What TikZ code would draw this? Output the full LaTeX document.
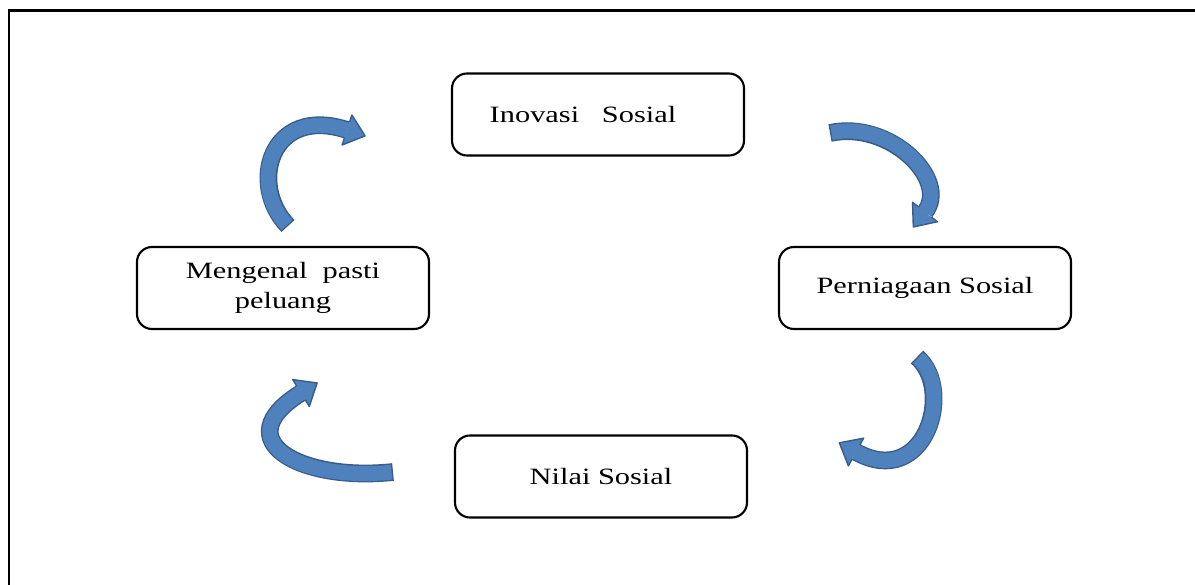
\documentclass[tikz,border=0pt]{standalone}
\usepackage{fontspec}
\setmainfont{Liberation Serif}[FakeStretch=1.3]
\usepackage{tikz}
\usetikzlibrary{calc}

\definecolor{arrowblue}{RGB}{79,129,189}
\definecolor{arrowdark}{RGB}{56,93,138}

\tikzset{
  stage/.style={draw, line width=1.2pt, rounded corners=0.3cm, minimum width=5.84cm, minimum height=1.64cm, inner sep=2pt, font=\fontsize{13.3}{17}\selectfont},
  arrowedge/.style={draw=arrowdark, line width=10.1pt},
  arrowbody/.style={draw=arrowblue, line width=8.5pt, shorten <=0.8pt},
  arrowline/.style={draw=arrowdark, line width=0.8pt, line join=round}
}

% curved block arrow: tail, control 1, control 2, head base
\newcommand{\cyclearrow}[4]{%
  \draw[arrowedge] (#1) .. controls (#2) and (#3) .. (#4);
  \fill[arrowblue] ($(#4)!9pt!90:(#3)$) -- ($(#4)!-0.38cm!(#3)$) -- ($(#4)!9pt!-90:(#3)$) -- cycle;
  \draw[arrowline] ($(#4)!4.6pt!90:(#3)$) -- ($(#4)!9pt!90:(#3)$) -- ($(#4)!-0.38cm!(#3)$) -- ($(#4)!9pt!-90:(#3)$) -- ($(#4)!4.6pt!-90:(#3)$);
  \draw[arrowbody] (#1) .. controls (#2) and (#3) .. (#4);
}

\begin{document}
\begin{tikzpicture}
    \useasboundingbox (0,0) rectangle (23.9,-11.7);
    % frame
    \draw[line width=1.7pt] (0.18,-11.7) -- (0.18,-0.21) -- (23.9,-0.21);

    % stages
    \node[stage] (ino) at (11.96,-2.29) {Inovasi\ \ \ Sosial\kern0.6cm};
    \node[stage] (per) at (18.5,-5.76) {Perniagaan Sosial};
    \node[stage] (nil) at (12.02,-9.53) {Nilai Sosial};
    \node[stage, align=center] (men) at (5.66,-5.76) {Mengenal\ \ pasti\\peluang};

    % arrow ends
    \coordinate (t1) at (5.76,-4.52);  \coordinate (h1) at (6.94,-2.60);
    \coordinate (t2) at (16.6,-2.66);  \coordinate (h2) at (18.5,-4.24);
    \coordinate (t3) at (18.34,-7.14); \coordinate (h3) at (17.12,-9.04);
    \coordinate (t4) at (7.86,-9.44);  \coordinate (h4) at (6.02,-7.86);

    % cycle arrows
    \cyclearrow{t1}{4.96,-3.70}{5.40,-2.10}{h1}
    \cyclearrow{t2}{17.8,-2.40}{19.0,-3.60}{h2}
    \cyclearrow{t3}{19.1,-7.80}{18.5,-9.80}{h3}
    \cyclearrow{t4}{6.0,-9.64}{4.5,-8.80}{h4}
\end{tikzpicture}
\end{document}
